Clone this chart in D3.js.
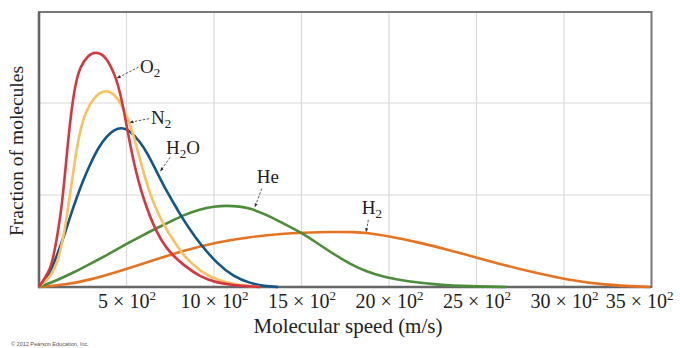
<!DOCTYPE html>
<html>
<head>
<meta charset="utf-8">
<script src="https://cdn.jsdelivr.net/npm/d3@7"></script>
<style>
  body { margin: 0; background: #fff; }
  svg text { font-family: "Liberation Serif", "Times New Roman", serif; fill: #222; }
</style>
</head>
<body>
<div id="chart"></div>
<script>
// speeds in m/s, fractions in grid units
var speedTicks = [500, 1000, 1500, 2000, 2500, 3000, 3500];

var o2 = [[0,0],[63,0.18],[82,0.33],[101,0.51],[130,0.87],[149,1.24],[167,1.6],[187,1.95],[210,2.22],[234,2.39],[280,2.52],[326,2.56],[370,2.52],[406,2.42],[440,2.27],[463,2.12],[497,1.8],[539,1.36],[596,0.95],[673,0.58],[730,0.42],[767,0.34],[825,0.24],[920,0.11],[1015,0.047],[1110,0.02],[1206,0.008],[1263,0]];
var n2 = [[0,0],[60,0.1],[91,0.2],[120,0.36],[150,0.65],[177,1.0],[200,1.3],[219,1.55],[250,1.82],[291,2.0],[340,2.11],[387,2.14],[430,2.1],[474,1.98],[515,1.8],[551,1.58],[600,1.22],[651,0.92],[710,0.68],[787,0.45],[840,0.31],[920,0.17],[1015,0.076],[1130,0.022],[1263,0]];
var h2o = [[0,0],[63,0.15],[100,0.33],[139,0.53],[177,0.76],[215,0.97],[250,1.15],[291,1.33],[340,1.52],[387,1.64],[430,1.71],[473,1.735],[520,1.7],[577,1.58],[620,1.45],[660,1.3],[700,1.15],[730,1.04],[767,0.92],[800,0.81],[860,0.63],[920,0.47],[1015,0.26],[1110,0.115],[1206,0.04],[1290,0.01],[1367,0]];
var he = [[0,0],[101,0.07],[200,0.16],[291,0.25],[390,0.35],[482,0.45],[580,0.55],[673,0.64],[760,0.72],[825,0.78],[920,0.845],[1000,0.875],[1073,0.885],[1150,0.875],[1206,0.855],[1301,0.785],[1396,0.69],[1501,0.59],[1587,0.48],[1682,0.36],[1777,0.25],[1873,0.166],[1967,0.11],[2101,0.06],[2291,0.022],[2450,0.008],[2669,0]];
var h2 = [[0,0],[150,0.025],[291,0.076],[482,0.185],[634,0.28],[825,0.395],[1015,0.485],[1206,0.545],[1396,0.58],[1501,0.59],[1682,0.6],[1800,0.597],[1873,0.59],[2006,0.55],[2158,0.49],[2349,0.4],[2520,0.31],[2653,0.24],[2844,0.15],[3006,0.084],[3225,0.022],[3491,0]];

var gases = ["H2", "He", "H2O", "N2", "O2"];
var gasData = { O2: o2, N2: n2, H2O: h2o, He: he, H2: h2 };
var gasColor = { O2: "#d8363f", N2: "#fbc160", H2O: "#135689", He: "#4d8c3a", H2: "#e47424" };

// label text pieces: [main, sub, tail]; positions in data units
var notes = [
  { gas: "O2",  parts: ["O", "2", ""], at: [577, 2.33], from: [569, 2.39], to: [446, 2.27] },
  { gas: "N2",  parts: ["N", "2", ""], at: [640, 1.77], from: [629, 1.83], to: [520, 1.79] },
  { gas: "H2O", parts: ["H", "2", "O"], at: [726, 1.45], from: [749, 1.41], to: [694, 1.26] },
  { gas: "He",  parts: ["He", "", ""], at: [1244, 1.13], from: [1273, 1.07], to: [1234, 0.87] },
  { gas: "H2",  parts: ["H", "2", ""], at: [1844, 0.79], from: [1882, 0.73], to: [1869, 0.6] }
];

var w = 680, h = 348;
var svg = d3.select("#chart").append("svg").attr("width", w).attr("height", h);

var x = d3.scaleLinear().domain([0, 3500]).range([39, 651.5]);
var y = d3.scaleLinear().domain([0, 3]).range([287, 11]);

// grid
svg.append("g")
  .selectAll("line").data(speedTicks.slice(0, -1)).enter().append("line")
  .attr("x1", function(d) { return x(d); }).attr("x2", function(d) { return x(d); })
  .attr("y1", y(0)).attr("y2", 12)
  .attr("stroke", "#dadada").attr("stroke-width", 1.2);
svg.append("g")
  .selectAll("line").data([1, 2]).enter().append("line")
  .attr("x1", x(0)).attr("x2", x(3500))
  .attr("y1", function(d) { return y(d); }).attr("y2", function(d) { return y(d); })
  .attr("stroke", "#dadada").attr("stroke-width", 1.2);

// frame
svg.append("rect")
  .attr("x", x(0)).attr("y", 12)
  .attr("width", x(3500) - x(0)).attr("height", y(0) - 12)
  .attr("fill", "none").attr("stroke", "#777").attr("stroke-width", 2);
svg.append("path")
  .attr("d", "M" + x(0) + ",12V" + y(0) + "H" + x(3500))
  .attr("fill", "none").attr("stroke", "#666").attr("stroke-width", 2.6);

// curves
var line = d3.line()
  .x(function(d) { return x(d[0]); })
  .y(function(d) { return y(d[1]); })
  .curve(d3.curveBasis);

svg.append("g").selectAll("path").data(gases).enter().append("path")
  .attr("d", function(g) { return line(gasData[g]); })
  .attr("fill", "none")
  .attr("stroke", function(g) { return gasColor[g]; })
  .attr("stroke-width", 2.6)
  .attr("stroke-linejoin", "round");

// x axis labels
var xAxis = d3.axisBottom(x).tickValues(speedTicks).tickSize(0).tickFormat("");
var gx = svg.append("g").attr("transform", "translate(0," + y(0) + ")").call(xAxis);
gx.select(".domain").remove();
gx.selectAll(".tick").append("text")
  .attr("y", 21)
  .attr("text-anchor", function(d) { return d === 3500 ? "end" : "middle"; })
  .attr("x", function(d) { return d === 3500 ? 21.5 : 0; })
  .style("font-size", "20px")
  .each(function(d) {
    var t = d3.select(this);
    t.append("tspan").text((d / 100) + " \u00d7 10");
    t.append("tspan").attr("dy", -8).style("font-size", "13px").text("2");
  });

svg.append("text")
  .attr("x", 348).attr("y", 333)
  .attr("text-anchor", "middle")
  .style("font-size", "21px")
  .text("Molecular speed (m/s)");

svg.append("text")
  .attr("transform", "translate(23,151) rotate(-90)")
  .attr("text-anchor", "middle")
  .style("font-size", "19.5px")
  .text("Fraction of molecules");

svg.append("text")
  .attr("x", 11).attr("y", 346)
  .style("font-family", "'Liberation Sans', Arial, sans-serif")
  .style("font-size", "5.5px")
  .style("fill", "#555")
  .text("\u00a9 2012 Pearson Education, Inc.");

// annotations
svg.append("defs").append("marker")
  .attr("id", "arrow")
  .attr("viewBox", "0 0 10 10")
  .attr("refX", 9).attr("refY", 5)
  .attr("markerWidth", 5).attr("markerHeight", 5)
  .attr("orient", "auto")
  .append("path").attr("d", "M0,1L10,5L0,9z").attr("fill", "#333");

var ann = svg.append("g").selectAll("g").data(notes).enter().append("g");
ann.append("line")
  .attr("x1", function(d) { return x(d.from[0]); })
  .attr("y1", function(d) { return y(d.from[1]); })
  .attr("x2", function(d) { return x(d.to[0]); })
  .attr("y2", function(d) { return y(d.to[1]); })
  .attr("stroke", "#333").attr("stroke-width", 0.8)
  .attr("stroke-dasharray", "2.5,1.5")
  .attr("marker-end", "url(#arrow)");
ann.append("text")
  .attr("x", function(d) { return x(d.at[0]); })
  .attr("y", function(d) { return y(d.at[1]); })
  .style("font-size", "19px")
  .each(function(d) {
    var t = d3.select(this);
    t.append("tspan").text(d.parts[0]);
    if (d.parts[1]) t.append("tspan").attr("dy", 4).style("font-size", "13px").text(d.parts[1]);
    if (d.parts[2]) t.append("tspan").attr("dy", -4).text(d.parts[2]);
  });
</script>
</body>
</html>
